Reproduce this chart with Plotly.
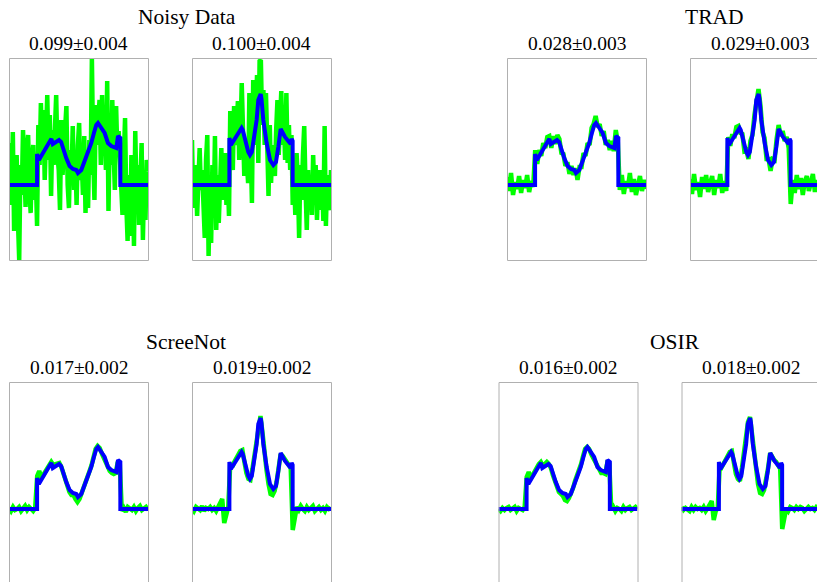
import numpy as np
import plotly.graph_objects as go

# ---------------- data ----------------
# clean signal A (left panel of each pair): breakpoints (fraction of length, amplitude)
truth_a_x = [0, 0.202, 0.202, 0.215, 0.295, 0.305, 0.315, 0.36, 0.375, 0.388, 0.412, 0.436, 0.46,
             0.484, 0.496, 0.52, 0.54, 0.568, 0.592, 0.611, 0.628, 0.64, 0.664, 0.688, 0.712,
             0.736, 0.772, 0.784, 0.801, 0.801, 1]
truth_a_y = [0, 0, 31, 25, 44, 46, 41, 45, 43, 36, 27, 19, 16, 15, 12, 15, 22, 32, 42, 52, 60, 62,
             57, 52, 42, 39, 37, 49, 47, 0, 0]

# clean signal B (right panel of each pair)
truth_b_x = [0, 0.269, 0.269, 0.28, 0.357, 0.365, 0.405, 0.417, 0.43, 0.465, 0.477, 0.494, 0.5,
             0.513, 0.537, 0.561, 0.585, 0.604, 0.621, 0.638, 0.669, 0.693, 0.71, 0.717, 0.724,
             0.724, 1]
truth_b_y = [0, 0, 47, 40, 57, 55, 33, 30, 33, 65, 85, 91, 86, 65, 42, 25, 20, 23, 38, 56, 48, 43,
             41, 46, 44, 0, 0]

noisy_a = [42, 5, -20, 53, -46, 10, 30, -35, -75, 20, -10, 55, 15, -22, 35, 50, -5, -28, 25, 40,
           -15, 10, -41, 60, 20, 82, 35, 75, 5, 60, 90, 25, 70, -11, 55, 20, 65, 90, 30, 15,
           -25, 65, 10, 40, 55, 79, 0, -23, 35, 10, 59, -5, 30, -20, 40, 62, 5, 25, -10, 49,
           -28, 35, -23, 45, 10, 127, 30, -15, 80, 40, 65, 85, 20, 90, 35, 60, 15, 104, -26, 50,
           20, 85, 35, -5, 79, 30, 54, 20, 5, -30, 25, 67, -20, -56, 10, -51, 30, 15, -61, 54,
           -10, 20, -40, 10, 42, -55, 5, -35, 25, 14]
noisy_b = [45, -23, 5, 20, -31, 10, 37, -5, 15, -20, -53, 25, 50, -71, -10, -58, 20, -30, 49, -45,
           10, -38, 15, 37, -15, 5, 32, -20, 10, -31, 74, 30, 15, 79, 40, 60, 84, 25, 50, 102,
           60, 9, 45, 20, 2, 92, 30, -18, 105, 40, 75, 110, 22, 124, 125, 60, 95, 40, 92, 50,
           -11, 60, 2, 40, 25, 9, 55, 85, 30, 60, 94, 40, 70, 25, 92, 22, 60, 15, 50, -20,
           10, -30, 32, 5, -53, 20, -15, 30, 59, 0, -45, 15, -25, 10, -30, 30, -10, 20, -35, 5,
           15, -25, 10, -36, 59, -41, 10, -20, -25, 15]

trad_a = [8, -6, 12, -10, 3, -4, 9, -8, 5, -3, 10, -7, 4, -2,
          35, 21, 35, 29, 42, 37, 48, 49, 37, 49, 41, 50, 46, 32, 31, 19, 23, 11, 19, 10, 17, 5,
          18, 18, 32, 29, 42, 40, 57, 61, 69, 58, 61, 49, 54, 40, 45, 35, 44, 34, 55, 43,
          -5, 10, -9, 4, -3, 12, -7, 6, -10, 3, 9, -6, 5, -4]
trad_b = [6, -9, 11, -5, 3, -12, 8, -4, 10, -7, 2, 9, -10, 5, -3, 11, -8, 4, -6,
          48, 39, 51, 47, 58, 59, 52, 51, 34, 35, 26, 44, 50, 70, 88, 96, 79, 53, 47, 26, 26, 14,
          26, 25, 46, 60, 49, 54, 44, 48, 37,
          -19, 5, -8, 10, -4, 7, -10, 4, 9, -6, 3, 11, -7, 5, -3, 8, -9, 6, 2, -5]

screenot_a = [1, -2, 2, -1, 0, 2, -2, 1, 3, -1, 2, 0, -2, 1,
              33, 38, 32, 34, 37, 41, 44, 47, 44, 45, 46, 46, 42, 35, 28, 22, 17, 14, 14, 10, 7,
              10, 15, 22, 27, 32, 38, 44, 52, 60, 63, 61, 56, 51, 47, 42, 38, 36, 35, 36, 47, 45,
              -2, 1, -3, 2, 0, -1, 2, -2, 1, 3, -1, 0, 2, -1]
screenot_b = [1, -2, 2, 0, -1, 3, -2, 1, 0, 2, -1, 1, -2, 2, 5, 10, -14, -3, 2,
              46, 42, 47, 51, 54, 58, 59, 47, 36, 30, 29, 40, 53, 66, 86, 93, 76, 54, 39, 25, 15,
              14, 18, 27, 40, 55, 53, 50, 47, 44, 41,
              -21, -8, 2, -1, 3, 0, -2, 2, -1, 1, 3, -2, 0, 2, -1, 1, -2, 2, 0, 1]

osir_a = [0, -2, 1, -1, 1, 2, -1, 1, 2, -2, 1, 0, -1, 2,
          32, 37, 31, 34, 38, 41, 45, 47, 43, 45, 47, 45, 41, 34, 28, 21, 17, 15, 13, 9, 8,
          11, 15, 21, 28, 33, 38, 45, 53, 60, 62, 60, 55, 51, 46, 42, 39, 36, 36, 35, 46, 45,
          -1, 2, -2, 1, 0, -2, 2, -1, 1, 2, -1, 1, 2, 0]
osir_b = [2, -1, 1, 0, -2, 2, -1, 2, 0, 1, -1, 2, -2, 1, 4, 8, -11, -2, 1,
          45, 42, 46, 51, 55, 57, 58, 46, 35, 30, 28, 41, 54, 67, 87, 92, 75, 53, 38, 25, 16,
          15, 19, 28, 41, 56, 52, 49, 47, 43, 40,
          -20, -7, 1, -2, 2, 1, -1, 2, 0, 2, 1, -2, 1, 2, 0, 1, -1, 2, 1, 0]

group_titles = ["Noisy Data", "TRAD", "ScreeNot", "OSIR"]
panel_titles = ["0.099±0.004", "0.100±0.004", "0.028±0.003", "0.029±0.003",
                "0.017±0.002", "0.019±0.002", "0.016±0.002", "0.018±0.002"]

# ---------------- layout (page-pixel geometry) ----------------
W, H = 817, 582


def fx(px):
    return px / W


def fy(py):
    return 1 - py / H


PW, PH = 139, 202
TOP = 127  # amplitude at the panel's top edge
panels = [
    # green, truth x, truth y, left px, top px
    (noisy_a, truth_a_x, truth_a_y, 9, 58),
    (noisy_b, truth_b_x, truth_b_y, 192, 58),
    (trad_a, truth_a_x, truth_a_y, 507, 58),
    (trad_b, truth_b_x, truth_b_y, 690, 58),
    (screenot_a, truth_a_x, truth_a_y, 9, 382),
    (screenot_b, truth_b_x, truth_b_y, 192, 382),
    (osir_a, truth_a_x, truth_a_y, 498.5, 382),
    (osir_b, truth_b_x, truth_b_y, 681.5, 382),
]
group_pos = [(187, 17), (714, 17), (186, 342), (675, 342)]

fig = go.Figure()
layout = dict(width=W, height=H, margin=dict(l=0, r=0, t=0, b=0),
              paper_bgcolor="white", plot_bgcolor="white", showlegend=False)
shapes, annotations = [], []
sub_font = dict(family="Liberation Serif", size=19.5, color="black")
title_font = dict(family="Liberation Serif", size=21.5, color="black")

for k, (green, tx, ty, x0, y0) in enumerate(panels, start=1):
    x1, y1 = x0 + PW, y0 + PH
    vis_r = min(x1, W)
    vis_b = min(y1, H)
    xa = "xaxis" if k == 1 else f"xaxis{k}"
    ya = "yaxis" if k == 1 else f"yaxis{k}"
    xr = "x" if k == 1 else f"x{k}"
    yr = "y" if k == 1 else f"y{k}"
    layout[xa] = dict(domain=[fx(x0), fx(vis_r)], range=[0, (vis_r - x0) / PW],
                      visible=False, fixedrange=True, anchor=yr)
    layout[ya] = dict(domain=[fy(vis_b), fy(y0)],
                      range=[TOP - (vis_b - y0), TOP], visible=False, fixedrange=True, anchor=xr)
    gx = np.linspace(0, 1, len(green))
    fig.add_trace(go.Scatter(x=gx, y=green, mode="lines", xaxis=xr, yaxis=yr,
                             line=dict(color="#00ff00", width=4.5), hoverinfo="skip"))
    fig.add_trace(go.Scatter(x=tx, y=ty, mode="lines", xaxis=xr, yaxis=yr,
                             line=dict(color="#0000ff", width=4), hoverinfo="skip"))
    shapes.append(dict(type="rect", xref="paper", yref="paper",
                       x0=fx(x0 + 0.5), x1=fx(x1 + 0.5),
                       y0=fy(y1 + 0.5), y1=fy(y0 + 0.5),
                       line=dict(color="#b0b0b0", width=1), layer="above"))
    sub_y = 44 if y0 < 300 else 367
    annotations.append(dict(text=panel_titles[k - 1], xref="paper", yref="paper",
                            x=fx(x0 + PW / 2), y=fy(sub_y), xanchor="center",
                            yanchor="middle", showarrow=False, font=sub_font))

for t, (px, py) in zip(group_titles, group_pos):
    annotations.append(dict(text=t, xref="paper", yref="paper", x=fx(px), y=fy(py),
                            xanchor="center", yanchor="middle", showarrow=False,
                            font=title_font))

layout["shapes"] = shapes
layout["annotations"] = annotations
fig.update_layout(**layout)
# remove the browser's default 8px body margin so the figure fills the window exactly
fig.write_html("out.html", config={"displayModeBar": False, "staticPlot": True},
               post_script="document.body.style.margin='0';document.body.style.overflow='hidden';")
